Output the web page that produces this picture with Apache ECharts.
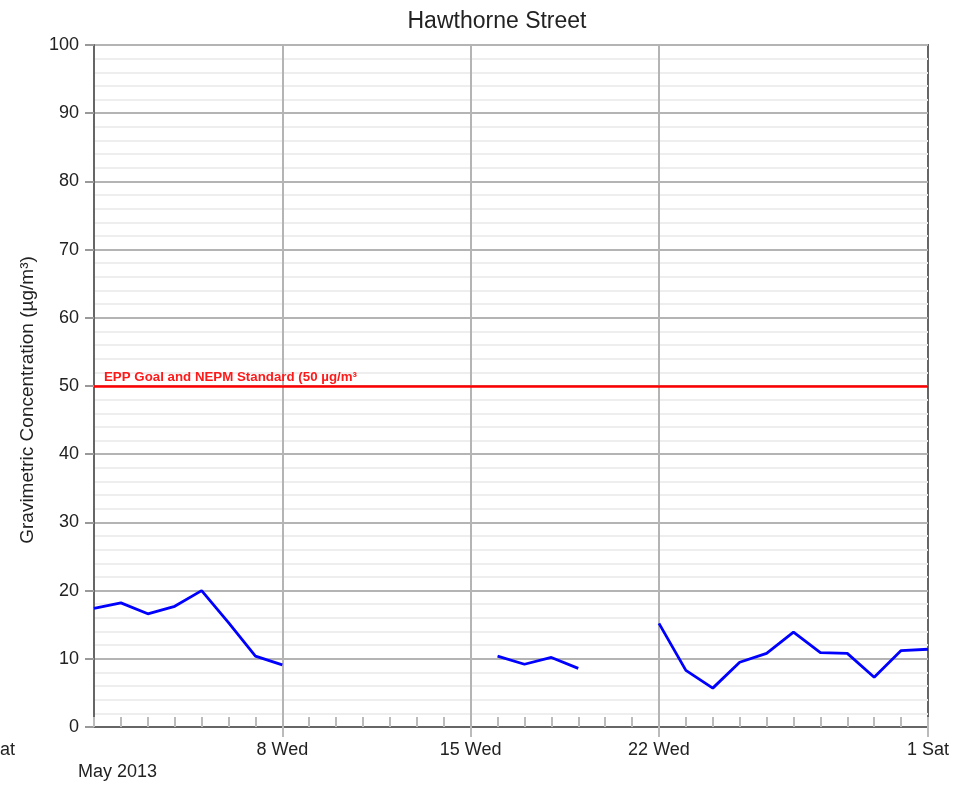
<!DOCTYPE html>
<html><head><meta charset="utf-8">
<script src="https://cdn.jsdelivr.net/npm/echarts@6/dist/echarts.min.js"></script>
<style>html,body{margin:0;padding:0;background:#fff}#c{width:973px;height:785px}</style>
</head><body><div id="c"></div>
<script>
var titleText = 'Hawthorne Street';
var yAxisName = 'Gravimetric Concentration (µg/m³)';
var days = [1,2,3,4,5,6,7,8,9,10,11,12,13,14,15,16,17,18,19,20,21,22,23,24,25,26,27,28,29,30,31,32];
var pm10 = [17.4,18.2,16.6,17.7,20.0,15.3,10.4,9.1,null,null,null,null,null,null,null,10.4,9.2,10.2,8.6,null,null,15.2,8.3,5.7,9.5,10.8,13.9,10.9,10.8,7.3,11.2,11.4];
var majorDays = [8,15,22,32];
var majorLabels = {8:'8 Wed',15:'15 Wed',22:'22 Wed',32:'1 Sat'};
var gridDays = [8,15,22];
var standardValue = 50;
var standardLabel = 'EPP Goal and NEPM Standard (50 µg/m³';

var chart = echarts.init(document.getElementById('c'));
var font = 'Liberation Sans, Arial, sans-serif';
var markData = gridDays.map(function(d){
  return {xAxis:d, lineStyle:{color:'#b4b4b4',width:2,type:'solid'}, label:{show:false}};
});
markData.push({yAxis:standardValue, lineStyle:{color:'#ff0000',width:2.5,type:'solid'},
  label:{show:true, position:'insideStartTop', formatter:standardLabel, color:'#ff1a1a', fontSize:13.3, fontWeight:'bold', fontFamily:font, distance:[10,2]}});
chart.setOption({
  animation:false,
  title:{text:titleText, left:492, textAlign:'center', top:5, textStyle:{fontFamily:font,fontSize:23,fontWeight:'normal',color:'#222'}},
  grid:{left:94,right:45,top:45,bottom:58,show:true,borderColor:'#666',borderWidth:2},
  xAxis:[{
    type:'value', min:1, max:32, interval:1,
    axisLine:{lineStyle:{color:'#666',width:2}},
    axisTick:{inside:true,length:10,lineStyle:{color:'#bbb',width:2}},
    axisLabel:{show:false}, splitLine:{show:false}
  },{
    type:'value', min:1, max:32, position:'bottom',
    axisLine:{show:false},
    axisTick:{show:true,customValues:majorDays,length:10,lineStyle:{color:'#bbb',width:2}},
    axisLabel:{show:true,customValues:majorDays,formatter:function(v){return majorLabels[v]||'';},
      fontFamily:font,fontSize:18,color:'#222',margin:14},
    splitLine:{show:false}
  }],
  yAxis:{
    type:'value', min:0, max:100, interval:10,
    axisLine:{show:true,lineStyle:{color:'#666',width:2}},
    axisTick:{show:true,length:9,lineStyle:{color:'#999',width:2}},
    axisLabel:{fontFamily:font,fontSize:18,color:'#222',margin:15},
    splitLine:{show:true,lineStyle:{color:'#b4b4b4',width:2}},
    minorTick:{show:false,splitNumber:5},
    minorSplitLine:{show:true,lineStyle:{color:'#eeeeee',width:2}}
  },
  graphic:[
    {type:'text',x:28,y:400,rotation:Math.PI/2,style:{text:yAxisName,font:'19px '+font,fill:'#222',align:'center',verticalAlign:'middle'}},
    {type:'text',left:78,top:763,style:{text:'May 2013',font:'18px '+font,fill:'#222'}},
    {type:'text',right:958,top:741,style:{text:'27 Sat',font:'18px '+font,fill:'#222'}}
  ],
  series:[{
    type:'line', xAxisIndex:0,
    data:days.map(function(d,i){return [d,pm10[i]];}),
    connectNulls:false, showSymbol:false, symbol:'none',
    lineStyle:{color:'#0000ff',width:2.8}, z:5,
    markLine:{silent:true,symbol:['none','none'],data:markData,z:3}
  }]
});
</script></body></html>
